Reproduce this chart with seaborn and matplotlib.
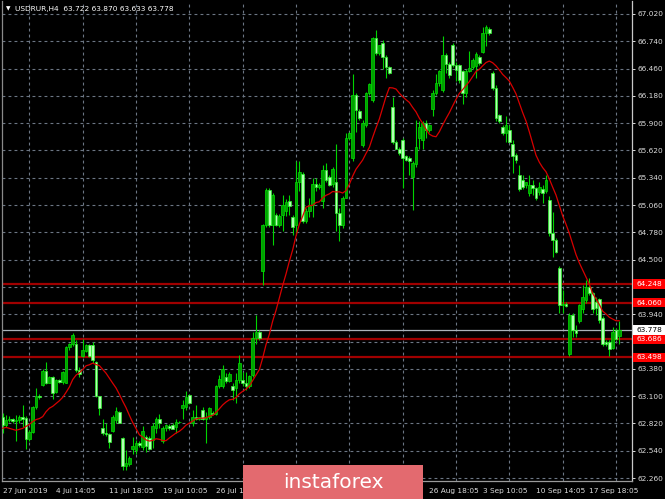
## for data
import numpy as np
import pandas as pd
## for plotting
import matplotlib
matplotlib.use("Agg")
import matplotlib.pyplot as plt
import matplotlib.transforms as mtransforms
from matplotlib.patches import Rectangle
import seaborn as sns

#****************** chart data ******************
symbol = "USDRUR,H4"
quote_text = "63.722 63.870 63.633 63.778"

opens = [
    62.89, 62.80, 62.86, 62.87, 62.85, 62.86, 62.89, 62.88, 62.66, 62.73,
    62.99, 63.10, 63.21, 63.36, 63.24, 63.30, 63.14, 63.27, 63.25, 63.24,
    63.60, 63.64, 63.63, 63.37, 63.51, 63.56, 63.62, 63.62, 63.45, 63.10,
    62.77, 62.72, 62.71, 62.74, 62.86, 62.94, 62.67, 62.38, 62.40, 62.56,
    62.55, 62.62, 62.58, 62.68, 62.67, 62.65, 62.77, 62.87, 62.64, 62.77,
    62.79, 62.80, 62.78, 62.83, 62.98, 62.99, 63.11, 62.82, 62.89, 62.87,
    62.96, 62.87, 62.89, 62.93, 62.92, 63.20, 63.20, 63.30, 63.26, 63.20,
    63.18, 63.27, 63.27, 63.23, 63.20, 63.32, 63.70, 63.76, 64.38, 64.86,
    65.21, 64.86, 64.96, 64.86, 64.96, 65.00, 65.10, 64.94, 64.86, 65.30,
    65.38, 64.90, 65.00, 65.06, 65.28, 65.25, 65.10, 65.42, 65.35, 65.28,
    65.30, 64.98, 64.86, 65.13, 65.75, 65.54, 66.19, 66.02, 65.68, 65.88,
    66.21, 66.14, 66.77, 66.62, 66.72, 66.58, 66.48, 66.07, 65.71, 65.64,
    65.73, 65.56, 65.54, 65.35, 65.48, 65.75, 65.73, 65.90, 65.83, 66.05,
    66.21, 66.31, 66.24, 66.60, 66.51, 66.70, 66.50, 66.50, 66.43, 66.21,
    66.44, 66.48, 66.49, 66.58, 66.63, 66.82, 66.87, 66.41, 66.26, 65.98,
    65.86, 65.80, 65.83, 65.69, 65.57, 65.37, 65.32, 65.27, 65.18, 65.27,
    65.23, 65.19, 65.22, 65.20, 65.11, 64.77, 64.70, 64.41, 64.04, 64.05,
    63.53, 63.93, 63.78, 63.87, 63.99, 64.09, 64.22, 64.16, 64.07, 64.10,
    63.90, 63.66, 63.66, 63.59, 63.78, 63.722]

highs = [
    62.93, 62.91, 62.90, 62.88, 62.91, 62.91, 63.01, 62.90, 62.75, 63.00,
    63.18, 63.12, 63.38, 63.45, 63.31, 63.31, 63.28, 63.28, 63.36, 63.61,
    63.65, 63.75, 63.68, 63.40, 63.69, 63.64, 63.63, 63.66, 63.46, 63.10,
    62.87, 62.82, 62.72, 62.91, 62.99, 62.95, 62.68, 62.55, 62.49, 62.68,
    62.65, 62.64, 62.79, 62.70, 62.69, 62.82, 62.89, 62.92, 62.79, 62.81,
    62.81, 62.82, 62.87, 62.85, 63.06, 63.15, 63.12, 62.96, 63.01, 62.89,
    62.99, 62.94, 62.99, 62.95, 63.21, 63.32, 63.42, 63.34, 63.35, 63.23,
    63.34, 63.52, 63.35, 63.35, 63.32, 63.76, 63.93, 63.78, 64.87, 65.23,
    65.23, 65.18, 64.98, 64.97, 65.16, 65.12, 65.16, 64.96, 65.51, 65.51,
    65.40, 65.03, 65.13, 65.34, 65.34, 65.29, 65.47, 65.49, 65.37, 65.45,
    65.69, 65.03, 65.15, 65.80, 65.81, 66.40, 66.21, 66.05, 65.93, 66.22,
    66.31, 66.78, 66.86, 66.70, 66.75, 66.60, 66.49, 66.17, 65.73, 65.66,
    65.75, 65.57, 65.56, 65.51, 65.93, 65.92, 65.92, 65.93, 65.89, 66.24,
    66.40, 66.45, 66.79, 66.62, 66.53, 66.72, 66.53, 66.51, 66.45, 66.46,
    66.64, 66.57, 66.63, 66.60, 66.89, 66.91, 66.89, 66.43, 66.29, 65.99,
    65.88, 65.97, 65.88, 65.73, 65.59, 65.47, 65.37, 65.30, 65.37, 65.32,
    65.25, 65.30, 65.27, 65.37, 65.15, 64.99, 64.72, 64.43, 64.19, 64.07,
    63.95, 63.95, 63.83, 64.05, 64.24, 64.29, 64.31, 64.17, 64.12, 64.11,
    63.92, 63.68, 63.68, 63.81, 63.80, 63.870]

lows = [
    62.72, 62.78, 62.84, 62.82, 62.64, 62.82, 62.78, 62.56, 62.64, 62.72,
    62.97, 63.07, 63.20, 63.22, 63.23, 63.07, 63.13, 63.23, 63.22, 63.23,
    63.57, 63.61, 63.35, 63.30, 63.50, 63.55, 63.50, 63.44, 63.09, 62.91,
    62.70, 62.69, 62.57, 62.73, 62.82, 62.82, 62.34, 62.34, 62.38, 62.51,
    62.51, 62.58, 62.55, 62.53, 62.55, 62.57, 62.72, 62.77, 62.62, 62.74,
    62.75, 62.76, 62.72, 62.82, 62.87, 62.96, 63.02, 62.79, 62.86, 62.86,
    62.86, 62.62, 62.87, 62.91, 62.91, 63.18, 63.18, 63.23, 63.25, 63.06,
    63.03, 63.23, 63.20, 63.16, 63.18, 63.30, 63.64, 63.68, 64.24, 64.84,
    64.84, 64.65, 64.85, 64.84, 64.79, 64.95, 64.96, 64.75, 64.76, 65.20,
    64.88, 64.88, 64.94, 64.94, 65.20, 65.22, 65.03, 65.30, 65.26, 65.25,
    64.79, 64.69, 64.82, 65.13, 65.73, 65.51, 65.81, 65.93, 65.66, 65.86,
    66.19, 66.12, 66.60, 66.60, 66.46, 66.36, 66.40, 65.69, 65.63, 65.57,
    65.23, 65.51, 65.37, 65.01, 65.45, 65.63, 65.64, 65.75, 65.81, 65.97,
    66.19, 66.28, 66.22, 66.41, 66.36, 66.48, 66.33, 66.31, 66.10, 66.17,
    66.42, 66.46, 66.36, 66.50, 66.62, 66.69, 66.80, 66.24, 65.92, 65.90,
    65.78, 65.71, 65.71, 65.39, 65.49, 65.20, 65.22, 65.23, 65.15, 65.16,
    65.11, 65.16, 65.08, 65.18, 64.74, 64.53, 64.57, 63.95, 63.95, 64.01,
    63.51, 63.71, 63.71, 63.85, 63.95, 64.06, 64.14, 63.95, 63.93, 63.85,
    63.61, 63.61, 63.51, 63.58, 63.68, 63.633]

closes = [
    62.80, 62.86, 62.87, 62.85, 62.86, 62.89, 62.87, 62.66, 62.73, 62.99,
    63.10, 63.09, 63.36, 63.24, 63.30, 63.13, 63.27, 63.25, 63.35, 63.60,
    63.64, 63.73, 63.37, 63.33, 63.57, 63.62, 63.51, 63.47, 63.10, 62.98,
    62.72, 62.71, 62.63, 62.89, 62.95, 62.82, 62.38, 62.41, 62.47, 62.59,
    62.62, 62.60, 62.74, 62.59, 62.56, 62.79, 62.87, 62.82, 62.77, 62.80,
    62.77, 62.76, 62.83, 62.84, 63.01, 63.09, 63.03, 62.89, 62.87, 62.89,
    62.87, 62.89, 62.98, 62.92, 63.20, 63.28, 63.38, 63.26, 63.33, 63.16,
    63.27, 63.44, 63.23, 63.20, 63.31, 63.70, 63.76, 63.70, 64.86, 65.21,
    64.86, 65.16, 64.86, 64.95, 65.06, 65.09, 65.05, 64.84, 65.30, 65.40,
    64.90, 65.00, 65.06, 65.28, 65.25, 65.27, 65.42, 65.32, 65.27, 65.43,
    64.98, 64.86, 65.13, 65.75, 65.80, 66.19, 66.04, 65.95, 65.90, 66.21,
    66.30, 66.77, 66.62, 66.70, 66.58, 66.48, 66.41, 65.71, 65.64, 65.59,
    65.54, 65.52, 65.51, 65.49, 65.66, 65.86, 65.90, 65.83, 65.88, 66.21,
    66.31, 66.43, 66.60, 66.51, 66.39, 66.50, 66.45, 66.34, 66.21, 66.44,
    66.47, 66.55, 66.61, 66.52, 66.82, 66.89, 66.82, 66.26, 65.95, 65.92,
    65.80, 65.88, 65.71, 65.56, 65.52, 65.22, 65.25, 65.30, 65.27, 65.23,
    65.13, 65.25, 65.18, 65.32, 64.77, 64.70, 64.58, 64.04, 64.05, 64.02,
    63.93, 63.78, 63.75, 64.04, 64.12, 64.22, 64.16, 63.99, 64.00, 63.88,
    63.63, 63.63, 63.58, 63.76, 63.69, 63.778]

# moving average: first bars (history is off screen)
ma_period = 14
ma_head = [62.77, 62.78, 62.77, 62.76, 62.75, 62.76, 62.77, 62.79, 62.81,
           62.84, 62.86, 62.87, 62.89]

level_prices = [64.248, 64.060, 63.686, 63.498]
level_labels = ["64.248", "64.060", "63.686", "63.498"]
bid_price = 63.778
bid_label = "63.778"

# scale labels; the two hidden behind the price tags are left blank
price_ticks = [62.260, 62.540, 62.820, 63.100, 63.380, 63.660, 63.940, 64.220,
               64.500, 64.780, 65.060, 65.340, 65.620, 65.900, 66.180, 66.460,
               66.740, 67.020]
price_labels = ["62.260", "62.540", "62.820", "63.100", "63.380", "", "63.940", "",
                "64.500", "64.780", "65.060", "65.340", "65.620", "65.900", "66.180",
                "66.460", "66.740", "67.020"]
# time labels; the ones under the watermark are not visible in the reference
date_ticks = [0, 16, 32, 48, 64, 80, 96, 112, 128, 144, 160, 176]
date_labels = ["27 Jun 2019", "4 Jul 14:05", "11 Jul 18:05", "19 Jul 10:05",
               "26 Jul 14:05", "", "", "",
               "26 Aug 18:05", "3 Sep 10:05", "10 Sep 14:05", "17 Sep 18:05"]
grid_step = 8

#****************** build frame ******************
df = pd.DataFrame({"o": opens, "h": highs, "l": lows, "c": closes})
df["bar"] = np.arange(len(df))
df["ma"] = df["c"].rolling(ma_period).mean()
df.loc[:len(ma_head) - 1, "ma"] = ma_head
df["up"] = df["c"] >= df["o"]
df["body_lo"] = df[["o", "c"]].min(axis=1)
df["body_h"] = (df["c"] - df["o"]).abs().clip(lower=0.008)

#****************** style ******************
sns.set_style("dark", {"axes.facecolor": "black", "figure.facecolor": "black",
                       "axes.edgecolor": "#9a9a9a", "text.color": "white",
                       "xtick.color": "#d8d8d8", "ytick.color": "#d8d8d8",
                       "axes.labelcolor": "white"})
plt.rcParams["font.family"] = ["DejaVu Sans"]

fg = "#dcdcdc"
grid_col = "#6c7684"
bull_face, bull_edge = "#00a000", "#00e000"
bear_face, bear_edge = "#b4ffb4", "#2af52a"

W, H = 665, 499
fig = plt.figure(figsize=(W / 100, H / 100), dpi=100)
ax = fig.add_axes([1.5 / W, 18 / H, 630.5 / W, 480.5 / H])
ax.set_xlim(-0.36, 188.8)
ax.set_ylim(62.230, 67.158)

# grid
ax.set_yticks(price_ticks)
ax.set_yticklabels(price_labels)
ax.set_xticks(date_ticks)
ax.set_xticklabels(date_labels, ha="left")
ax.set_xticks(np.arange(grid_step, len(df) + 3, grid_step), minor=True)
dash = (0, (2.6, 2.8))
ax.yaxis.grid(True, color=grid_col, lw=0.8, linestyle=dash)
ax.xaxis.grid(True, which="minor", color=grid_col, lw=0.8, linestyle=dash)
ax.xaxis.grid(False, which="major")
ax.set_axisbelow(True)

ax.yaxis.tick_right()
ax.tick_params(axis="y", which="major", direction="out", length=2.2, width=0.7,
               pad=1.6, colors=fg, labelsize=5.3)
ax.tick_params(axis="x", which="major", direction="out", length=2.2, width=0.7,
               pad=2.8, colors=fg, labelsize=5.3)
ax.tick_params(axis="x", which="minor", length=0)

ax.spines["top"].set_visible(False)
ax.spines["left"].set_color("#8a8a8a")
ax.spines["right"].set_color("#c8c8c8")
ax.spines["bottom"].set_color("#9a9a9a")
for side in ["left", "right", "bottom"]:
    ax.spines[side].set_linewidth(0.9)

# support / resistance levels and bid line
for p in level_prices:
    ax.axhline(p, color="#a00000", lw=1.6, zorder=2)
ax.axhline(bid_price, color="#aab2ba", lw=0.9, zorder=2)

# candles
ax.vlines(df["bar"], df["l"], df["h"], color="#00d400", lw=0.8, zorder=3)
up = df[df["up"]]
dn = df[~df["up"]]
ax.bar(up["bar"], up["body_h"], bottom=up["body_lo"], width=0.72,
       color=bull_face, edgecolor=bull_edge, linewidth=0.5, zorder=4)
ax.bar(dn["bar"], dn["body_h"], bottom=dn["body_lo"], width=0.72,
       color=bear_face, edgecolor=bear_edge, linewidth=0.5, zorder=4)

# moving average
sns.lineplot(x=df["bar"], y=df["ma"], ax=ax, color="#d80000", linewidth=0.9,
             zorder=6, legend=False)
ax.set_xlabel("")
ax.set_ylabel("")

# price tags on the right scale
trans = mtransforms.blended_transform_factory(ax.transAxes, ax.transData)
tag_w = 33 / 630.5
tag_h = 0.098
for p, t in zip(level_prices, level_labels):
    ax.add_patch(Rectangle((1.0015, p - tag_h / 2), tag_w, tag_h, transform=trans,
                           facecolor="#ff0000", edgecolor="none", clip_on=False,
                           zorder=10))
    ax.text(1.0 + 4.5 / 630.5, p, t, transform=trans, color="white", fontsize=5.3,
            va="center", ha="left", clip_on=False, zorder=11)
ax.add_patch(Rectangle((1.0015, bid_price - tag_h / 2), tag_w, tag_h, transform=trans,
                       facecolor="white", edgecolor="none", clip_on=False, zorder=10))
ax.text(1.0 + 4.5 / 630.5, bid_price, bid_label, transform=trans, color="black",
        fontsize=5.3, va="center", ha="left", clip_on=False, zorder=11)

# header
ax.text(4 / 630.5, 0.982, "\u25bc", transform=ax.transAxes, color="white",
        fontsize=4.2, va="center", ha="left")
ax.text(13.5 / 630.5, 0.982, symbol + "  " + quote_text, transform=ax.transAxes,
        color="white", fontsize=5.3, va="center", ha="left")

# watermark
fig.patches.append(Rectangle((243 / W, 0), 180 / W, 34 / H, transform=fig.transFigure,
                             facecolor="#e36a6f", edgecolor="none", zorder=20))
fig.text(333 / W, 16 / H, "instaforex", color="white", fontsize=14.5,
         family=["Liberation Sans Narrow", "DejaVu Sans"], ha="center", va="center",
         zorder=21)

fig.savefig("out.png", dpi=100, facecolor="black")
